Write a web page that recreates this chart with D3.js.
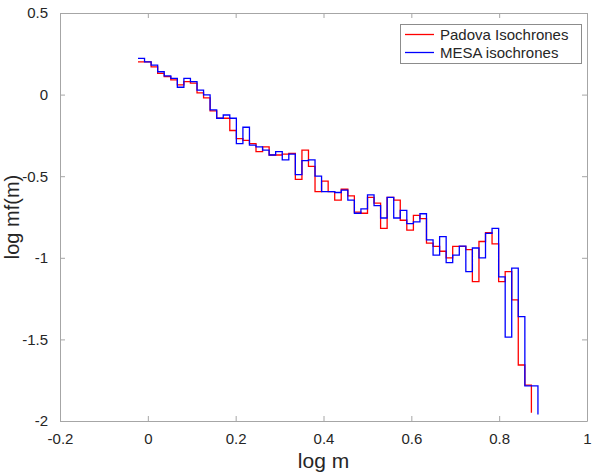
<!DOCTYPE html>
<html>
<head>
<meta charset="utf-8">
<script src="https://cdn.jsdelivr.net/npm/d3@7"></script>
<style>
  body { margin: 0; background: #fff; }
  text { font-family: "Liberation Sans", Arial, Helvetica, sans-serif; fill: #262626; }
</style>
</head>
<body>
<div class="chart"></div>
<script>
// bin edges in log m (shared by both curves)
const binEdges = [
  -0.0224, -0.0075, 0.0075, 0.0224, 0.0373, 0.0523, 0.0672, 0.0821, 0.0970, 0.1120,
  0.1269, 0.1418, 0.1568, 0.1717, 0.1866, 0.2016, 0.2165, 0.2314, 0.2463, 0.2613,
  0.2762, 0.2911, 0.3061, 0.3210, 0.3359, 0.3509, 0.3658, 0.3807, 0.3956, 0.4106,
  0.4255, 0.4404, 0.4554, 0.4703, 0.4852, 0.5002, 0.5151, 0.5300, 0.5449, 0.5599,
  0.5748, 0.5897, 0.6047, 0.6196, 0.6345, 0.6495, 0.6644, 0.6793, 0.6942, 0.7092,
  0.7241, 0.7390, 0.7540, 0.7689, 0.7838, 0.7988, 0.8137, 0.8286, 0.8435, 0.8585,
  0.8734, 0.8883
];

// log mf(m), Padova isochrones (stairs, last value is end point)
const padova = [
  0.20, 0.20, 0.17, 0.13, 0.11, 0.09, 0.06, 0.08, 0.07, 0.01,
  -0.02, -0.10, -0.145, -0.145, -0.22, -0.27, -0.28, -0.30, -0.35, -0.32,
  -0.37, -0.37, -0.365, -0.36, -0.52, -0.34, -0.44, -0.595, -0.53, -0.595,
  -0.646, -0.58, -0.62, -0.72, -0.727, -0.63, -0.665, -0.82, -0.63, -0.646,
  -0.77, -0.83, -0.74, -0.76, -0.91, -0.93, -0.96, -1.0, -0.93, -0.93,
  -0.95, -1.146, -0.90, -0.846, -0.915, -1.146, -1.085, -1.258, -1.657, -1.78,
  -1.95
];

// log mf(m), MESA isochrones
const mesa = [
  0.222, 0.20, 0.18, 0.14, 0.115, 0.10, 0.045, 0.10, 0.08, 0.028,
  -0.002, -0.094, -0.145, -0.125, -0.145, -0.30, -0.20, -0.31, -0.32, -0.34,
  -0.37, -0.35, -0.40, -0.365, -0.49, -0.405, -0.40, -0.50, -0.595, -0.595,
  -0.60, -0.585, -0.646, -0.727, -0.70, -0.615, -0.68, -0.756, -0.63, -0.756,
  -0.71, -0.79, -0.78, -0.73, -0.89, -0.983, -0.87, -1.03, -0.983, -0.928,
  -1.085, -0.94, -1.0, -0.85, -0.82, -1.117, -1.486, -1.063, -1.36, -1.785,
  -1.785, -1.96
];

const xTicks = [-0.2, 0, 0.2, 0.4, 0.6, 0.8, 1];
const yTicks = [-2, -1.5, -1, -0.5, 0, 0.5];
const seriesNames = ["Padova Isochrones", "MESA isochrones"];
const seriesColors = ["#ff0000", "#0000ff"];

const width = 594,
  height = 472;
const plot = { left: 60, right: 587, top: 13, bottom: 421 };
const axisColor = "#a6a6a6";

const svg = d3
  .select(".chart")
  .append("svg")
  .attr("width", width)
  .attr("height", height);

const xScale = d3.scaleLinear().domain([-0.2, 1]).range([plot.left, plot.right]);
const yScale = d3.scaleLinear().domain([-2, 0.5]).range([plot.bottom, plot.top]);

const fmt = (d) => (d === 0 ? "0" : String(d));

// axes, ticks pointing inward on all four sides
const xBottom = d3.axisBottom(xScale).tickValues(xTicks).tickSizeInner(-5).tickSizeOuter(0).tickPadding(12).tickFormat(fmt);
const xTop = d3.axisTop(xScale).tickValues(xTicks).tickSizeInner(-5).tickSizeOuter(0).tickFormat("");
const yLeft = d3.axisLeft(yScale).tickValues(yTicks).tickSizeInner(-5).tickSizeOuter(0).tickPadding(12).tickFormat(fmt);
const yRight = d3.axisRight(yScale).tickValues(yTicks).tickSizeInner(-5).tickSizeOuter(0).tickFormat("");

svg.append("g").attr("transform", `translate(0,${plot.bottom})`).call(xBottom);
svg.append("g").attr("transform", `translate(0,${plot.top})`).call(xTop);
svg.append("g").attr("transform", `translate(${plot.left},0)`).call(yLeft);
svg.append("g").attr("transform", `translate(${plot.right},0)`).call(yRight);

svg.selectAll(".domain, .tick line").attr("stroke", axisColor).attr("stroke-width", 1);
svg.selectAll(".tick text").style("font-size", "15px").attr("fill", "#262626");

// step lines
const line = d3
  .line()
  .x((d) => xScale(d[0]))
  .y((d) => yScale(d[1]))
  .curve(d3.curveStepAfter);

[padova, mesa].forEach((vals, i) => {
  const pts = vals.map((v, j) => [binEdges[j], v]);
  svg
    .append("path")
    .datum(pts)
    .attr("fill", "none")
    .attr("stroke", seriesColors[i])
    .attr("stroke-width", 1.3)
    .attr("d", line);
});

// axis labels
svg
  .append("text")
  .attr("x", (plot.left + plot.right) / 2)
  .attr("y", 468)
  .attr("text-anchor", "middle")
  .style("font-size", "21px")
  .text("log m");

svg
  .append("text")
  .attr("transform", "translate(19,217) rotate(-90)")
  .attr("text-anchor", "middle")
  .style("font-size", "20px")
  .text("log mf(m)");

// legend
const legend = svg.append("g");
legend
  .append("rect")
  .attr("x", 400.5)
  .attr("y", 24.5)
  .attr("width", 181)
  .attr("height", 39)
  .attr("fill", "#fff")
  .attr("stroke", "#8c8c8c");

seriesNames.forEach((name, i) => {
  const y = 34.5 + i * 18;
  legend
    .append("line")
    .attr("x1", 405)
    .attr("x2", 434)
    .attr("y1", y)
    .attr("y2", y)
    .attr("stroke", seriesColors[i])
    .attr("stroke-width", 1.3);
  legend
    .append("text")
    .attr("x", 440)
    .attr("y", y + 5)
    .style("font-size", "15px")
    .text(name);
});
</script>
</body>
</html>
